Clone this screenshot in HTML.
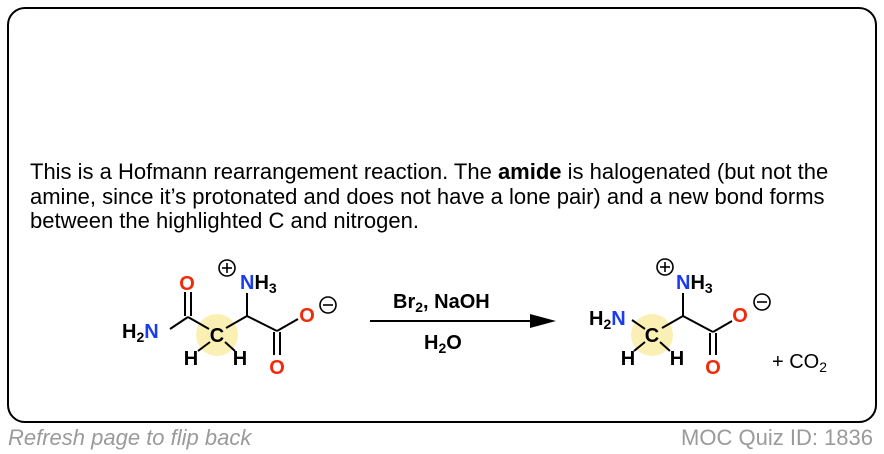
<!DOCTYPE html>
<html><head><meta charset="utf-8"><style>
html,body{margin:0;padding:0;background:#fff;}
body{width:884px;height:454px;overflow:hidden;position:relative;font-family:"Liberation Sans",Arial,sans-serif;}
.box{position:absolute;left:7px;top:7px;width:866px;height:412px;border:2.5px solid #000;border-radius:18px;}
.para{position:absolute;left:30px;top:160px;font-size:22px;line-height:24.5px;color:#000;white-space:nowrap;}
.foot{position:absolute;top:425px;font-size:22px;color:#9a9a9a;}
svg{position:absolute;left:0;top:0;}
svg text{font-family:"Liberation Sans",Arial,sans-serif;font-weight:bold;font-size:20px;}
</style></head><body>
<div class="box"></div>
<div class="para">This is a Hofmann rearrangement reaction. The <b>amide</b> is halogenated (but not the<br>amine, since it’s protonated and does not have a lone pair) and a new bond forms<br>between the highlighted C and nitrogen.</div>
<div class="foot" style="left:8px;font-style:italic;">Refresh page to flip back</div>
<div class="foot" style="right:11px;">MOC Quiz ID: 1836</div>
<svg width="884" height="454" viewBox="0 0 884 454">
<g fill="none" stroke="#000" stroke-width="2">
<circle cx="217" cy="335" r="21" fill="#fbf0b4" stroke="none"/>
<circle cx="652" cy="335" r="21" fill="#fbf0b4" stroke="none"/>
<line x1="170" y1="329" x2="188" y2="317"/>
<line x1="185" y1="292" x2="185" y2="316"/>
<line x1="191" y1="292" x2="191" y2="316"/>
<line x1="188" y1="317" x2="209" y2="329"/>
<line x1="226" y1="328" x2="247" y2="316"/>
<line x1="247" y1="316" x2="247" y2="293"/>
<line x1="247" y1="316" x2="277" y2="331"/>
<line x1="277" y1="331" x2="298" y2="319"/>
<line x1="274" y1="332" x2="274" y2="355"/>
<line x1="280" y1="332" x2="280" y2="355"/>
<line x1="210" y1="342" x2="198" y2="351"/>
<line x1="225" y1="342" x2="235" y2="351"/>
<line x1="632" y1="320" x2="645" y2="329"/>
<line x1="662" y1="328" x2="683" y2="316"/>
<line x1="683" y1="316" x2="683" y2="293"/>
<line x1="683" y1="316" x2="713" y2="332"/>
<line x1="713" y1="332" x2="732" y2="321"/>
<line x1="710" y1="333" x2="710" y2="355"/>
<line x1="716" y1="333" x2="716" y2="355"/>
<line x1="645" y1="342" x2="634" y2="351"/>
<line x1="660" y1="342" x2="670" y2="351"/>
<line x1="370" y1="321" x2="540" y2="321"/>
<circle cx="227" cy="268" r="8" stroke-width="1.6"/>
<circle cx="328" cy="305" r="8" stroke-width="1.6"/>
<circle cx="665" cy="267" r="8" stroke-width="1.6"/>
<circle cx="762" cy="302" r="8" stroke-width="1.6"/>
</g>
<g stroke="#000" stroke-width="1.6">
<line x1="222" y1="268" x2="232" y2="268"/><line x1="227" y1="263" x2="227" y2="273"/>
<line x1="323" y1="305" x2="333" y2="305"/>
<line x1="660" y1="267" x2="670" y2="267"/><line x1="665" y1="262" x2="665" y2="272"/>
<line x1="757" y1="302" x2="767" y2="302"/>
</g>
<polygon points="530,314 556,321 530,328" fill="#000"/>
<text x="187" y="290" fill="#f02a0a" text-anchor="middle">O</text>
<text x="122" y="338" fill="#000">H<tspan font-size="14" dy="4">2</tspan><tspan fill="#1a3cf0" dy="-4">N</tspan></text>
<text x="217" y="342" fill="#000" text-anchor="middle" font-weight="normal">C</text>
<text x="240" y="289" fill="#1a3cf0">N<tspan fill="#000">H</tspan><tspan fill="#000" font-size="14" dy="4">3</tspan></text>
<text x="307" y="322" fill="#f02a0a" text-anchor="middle">O</text>
<text x="277" y="374" fill="#f02a0a" text-anchor="middle">O</text>
<text x="191" y="365" fill="#000" text-anchor="middle" font-weight="normal">H</text>
<text x="240" y="365" fill="#000" text-anchor="middle" font-weight="normal">H</text>
<text x="393" y="308" fill="#000">Br<tspan font-size="14" dy="4">2</tspan><tspan dy="-4">, NaOH</tspan></text>
<text x="424" y="349" fill="#000">H<tspan font-size="14" dy="4">2</tspan><tspan dy="-4">O</tspan></text>
<text x="589" y="325" fill="#000">H<tspan font-size="14" dy="4">2</tspan><tspan fill="#1a3cf0" dy="-4">N</tspan></text>
<text x="652" y="342" fill="#000" text-anchor="middle" font-weight="normal">C</text>
<text x="676" y="289" fill="#1a3cf0">N<tspan fill="#000">H</tspan><tspan fill="#000" font-size="14" dy="4">3</tspan></text>
<text x="740" y="322" fill="#f02a0a" text-anchor="middle">O</text>
<text x="713" y="374" fill="#f02a0a" text-anchor="middle">O</text>
<text x="628" y="365" fill="#000" text-anchor="middle" font-weight="normal">H</text>
<text x="677" y="365" fill="#000" text-anchor="middle" font-weight="normal">H</text>
<text x="772" y="368" fill="#000" style="font-weight:normal">+ CO<tspan font-size="14" dy="4">2</tspan></text>
</svg>
</body></html>
